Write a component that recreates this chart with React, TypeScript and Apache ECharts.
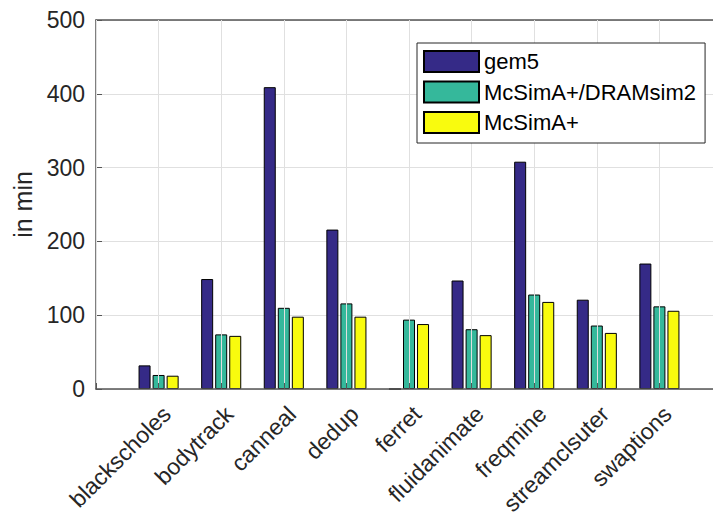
import React, { useEffect, useRef } from "react";
import * as echarts from "echarts";

const categories = [
  "blackscholes",
  "bodytrack",
  "canneal",
  "dedup",
  "ferret",
  "fluidanimate",
  "freqmine",
  "streamclsuter",
  "swaptions",
];
const gem5 = [32, 149, 409, 216, 0, 147, 308, 121, 170];
const dramsim2 = [19, 74, 110, 116, 94, 81, 128, 86, 112];
const mcsima = [18, 72, 98, 98, 88, 73, 118, 76, 106];
const yTicks = { min: 0, max: 500, interval: 100 };

const FONT = "'Liberation Sans', Arial, Helvetica, sans-serif";
const TXT = "#262626";
const AX = "#555555";

export default function App() {
  const ref = useRef<HTMLDivElement>(null);
  useEffect(() => {
    if (!ref.current) return;
    const chart = echarts.init(ref.current, undefined, { renderer: "svg" });
    const cats = ["", ...categories, ""];
    const pad = (arr: number[]) => [null, ...arr, null];
    const barBase = {
      type: "bar" as const,
      barWidth: 12,
      barGap: "17%",
      xAxisIndex: 0,
    };
    chart.setOption({
      animation: false,
      textStyle: { fontFamily: FONT },
      grid: { left: 96, top: 20, width: 626, height: 369, outerBoundsMode: "none", containLabel: false },
      legend: {
        orient: "vertical",
        left: 417,
        top: 43,
        padding: [7, 9, 9, 6],
        itemWidth: 55,
        itemHeight: 21,
        itemGap: 7.5,
        backgroundColor: "#ffffff",
        borderColor: TXT,
        borderWidth: 1,
        borderRadius: 0,
        icon: "rect",
        textStyle: { fontSize: 22, color: "#000", fontFamily: FONT, lineHeight: 21 },
        data: ["gem5", "McSimA+/DRAMsim2", "McSimA+"],
      },
      xAxis: [
        {
          type: "category",
          data: cats,
          boundaryGap: false,
          axisLine: { lineStyle: { color: AX, width: 1.5 } },
          axisTick: { inside: true, length: 6, interval: 0, lineStyle: { color: AX } },
          splitLine: { show: true, interval: 0, lineStyle: { color: "#e0e0e0", width: 1 } },
          axisLabel: {
            interval: 0,
            rotate: 45,
            fontSize: 23,
            color: TXT,
            fontFamily: FONT,
            margin: 13,
            verticalAlign: "top",
          },
          z: 3,
        },
        {
          type: "category",
          data: cats,
          boundaryGap: false,
          position: "top",
          axisLine: { lineStyle: { color: AX, width: 1.5 } },
          axisTick: { inside: true, length: 6, interval: 0, lineStyle: { color: AX } },
          axisLabel: { show: false },
          splitLine: { show: false },
        },
      ],
      yAxis: {
        type: "value",
        min: yTicks.min,
        max: yTicks.max,
        interval: yTicks.interval,
        name: "in min",
        nameLocation: "middle",
        nameGap: 61,
        nameTextStyle: { fontSize: 25, color: TXT, fontFamily: FONT },
        axisLine: { show: true, lineStyle: { color: AX, width: 1.5 } },
        axisTick: { show: true, inside: true, length: 6, lineStyle: { color: AX } },
        splitLine: { show: true, lineStyle: { color: "#e0e0e0", width: 1 } },
        axisLabel: { fontSize: 23, color: TXT, fontFamily: FONT, margin: 11 },
      },
      series: [
        {
          ...barBase,
          name: "gem5",
          data: pad(gem5),
          itemStyle: { color: "#352a87", borderColor: "#000", borderWidth: 1 },
        },
        {
          ...barBase,
          name: "McSimA+/DRAMsim2",
          data: pad(dramsim2),
          itemStyle: { color: "#35b89b", borderColor: "#000", borderWidth: 1 },
        },
        {
          ...barBase,
          name: "McSimA+",
          data: pad(mcsima),
          itemStyle: { color: "#f9fb0e", borderColor: "#000", borderWidth: 1 },
        },
      ],
    });
    return () => chart.dispose();
  }, []);
  return <div ref={ref} style={{ width: 713, height: 512, position: "absolute", left: 0, top: 0 }} />;
}
